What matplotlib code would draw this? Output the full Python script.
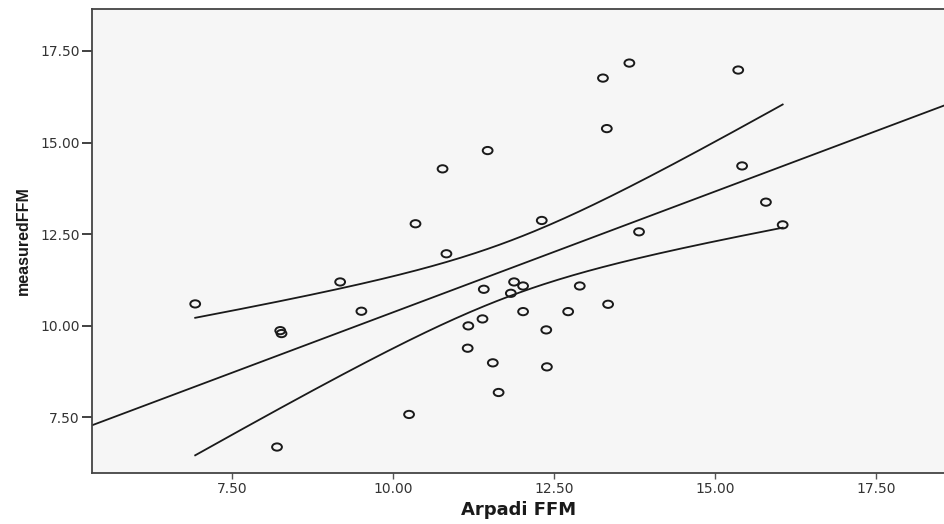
import numpy as np
import matplotlib
matplotlib.use("Agg")
import matplotlib.pyplot as plt
from matplotlib.path import Path
from matplotlib.transforms import Affine2D

# Data
arpadi_ffm = [6.93, 8.25, 8.27, 8.20, 9.18, 9.51, 10.35, 10.25, 10.77, 10.83,
              11.47, 11.41, 11.39, 11.17, 11.16, 11.55, 11.64, 11.88, 11.83, 12.02,
              12.02, 12.31, 12.38, 12.39, 12.72, 12.90, 13.26, 13.67, 13.32, 13.34,
              13.82, 15.36, 15.42, 15.79, 16.05]
measured_ffm = [10.59, 9.86, 9.78, 6.68, 11.19, 10.39, 12.78, 7.57, 14.28, 11.96,
                14.78, 10.99, 10.18, 9.99, 9.38, 8.98, 8.17, 11.19, 10.88, 11.08,
                10.38, 12.87, 9.88, 8.87, 10.38, 11.08, 16.76, 17.17, 15.38, 10.58,
                12.56, 16.98, 14.36, 13.37, 12.75]

x_ticks = [7.5, 10.0, 12.5, 15.0, 17.5]
y_ticks = [7.5, 10.0, 12.5, 15.0, 17.5]
x_tick_labels = ["7.50", "10.00", "12.50", "15.00", "17.50"]
y_tick_labels = ["7.50", "10.00", "12.50", "15.00", "17.50"]

x = np.array(arpadi_ffm)
y = np.array(measured_ffm)

fig = plt.figure(figsize=(9.45, 5.24), dpi=100)
ax = fig.add_axes([0.0975, 0.098, 0.9025, 0.885])
ax.set_facecolor("#f6f6f6")

xlim = (5.33, 18.57)
ylim = (5.98, 18.65)

# linear fit and 95% CI of the mean
slope, intercept = np.polyfit(x, y, 1)
n = len(x)
resid = y - (slope * x + intercept)
s = np.sqrt(np.sum(resid ** 2) / (n - 2))
t_val = 2.0345  # t(0.975, df=33)
xm = x.mean()
sxx = np.sum((x - xm) ** 2)

xf = np.linspace(xlim[0], xlim[1], 200)
ax.plot(xf, slope * xf + intercept, color="#1a1a1a", lw=1.3, zorder=2)

xb = np.linspace(x.min(), x.max(), 200)
yb = slope * xb + intercept
half = t_val * s * np.sqrt(1.0 / n + (xb - xm) ** 2 / sxx)
ax.plot(xb, yb + half, color="#1a1a1a", lw=1.3, zorder=2)
ax.plot(xb, yb - half, color="#1a1a1a", lw=1.3, zorder=2)

ellipse = Path.unit_circle().transformed(Affine2D().scale(1.0, 0.74))
ax.scatter(x, y, s=50, marker=ellipse, facecolors="none", edgecolors="#1a1a1a",
           linewidths=1.4, zorder=3)

ax.set_xlim(*xlim)
ax.set_ylim(*ylim)
ax.set_xticks(x_ticks)
ax.set_xticklabels(x_tick_labels)
ax.set_yticks(y_ticks)
ax.set_yticklabels(y_tick_labels)
ax.tick_params(axis="y", direction="out", length=7, width=1.3, colors="#333333",
               labelsize=10, pad=2)
ax.tick_params(axis="x", direction="out", length=4, width=1.0, colors="#555555",
               labelsize=10, pad=3)
for lab in ax.get_xticklabels() + ax.get_yticklabels():
    lab.set_color("#333333")
    lab.set_family("DejaVu Sans")

for side in ["left", "bottom", "top", "right"]:
    ax.spines[side].set_color("#444444")
    ax.spines[side].set_linewidth(1.3)

ax.set_xlabel("Arpadi FFM", fontsize=13, fontweight="bold", color="#1a1a1a",
              family=["DejaVu Sans"], labelpad=3)
ax.set_ylabel("measuredFFM", fontsize=11.5, fontweight="bold", color="#1a1a1a",
              family=["Liberation Sans", "DejaVu Sans"], labelpad=7)

fig.savefig("out.png", dpi=100, facecolor="white")
